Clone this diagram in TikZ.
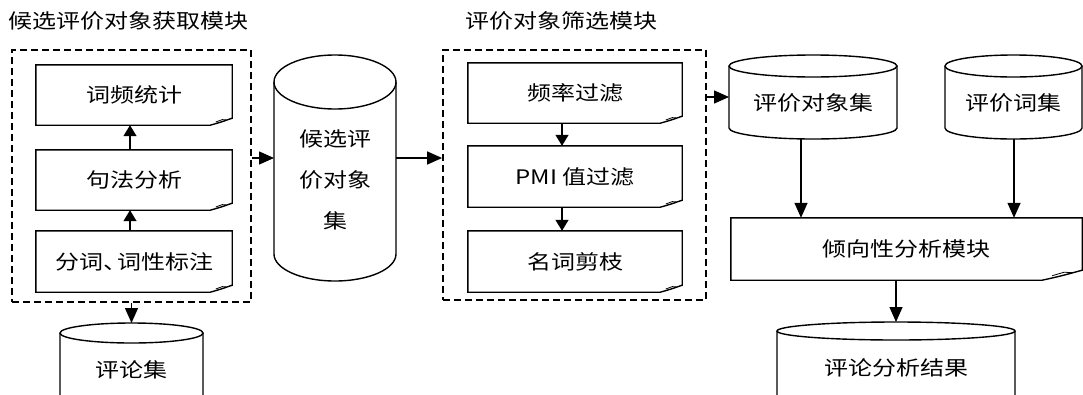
\documentclass[tikz,border=0pt]{standalone}
\usepackage{fontspec}
\setmainfont[FakeStretch=1.2]{Noto Sans CJK SC}
\usetikzlibrary{arrows.meta,calc}
\tikzset{
  txt/.style={font=\fontsize{20}{24}\selectfont, inner sep=0pt},
  boxline/.style={line width=1.4pt},
  docnode/.style={txt, minimum width=#1, inner sep=0pt},
  modbox/.style={draw, line width=1.8pt, dash pattern=on 7pt off 4pt, inner sep=0pt},
  arr/.style={line width=1.4pt, -{Triangle[length=15pt,width=13pt]}},
  sarr/.style={line width=1.4pt, -{Triangle[length=11pt,width=13pt]}},
}
\newcommand\docshape[3]{%
  \draw[boxline] (#1.south west) -- (#1.north west) -- (#1.north east) -- ($(#1.south east)+(0pt,#3)$)
    .. controls ($(#1.south east)+(-0.55*#2,0.4*#3)$) .. ($(#1.south east)+(-#2,0pt)$) -- cycle;
  \draw[line width=0.8pt] ($(#1.south east)+(-0.75*#2,0.45*#3)$) -- ($(#1.south east)+(-0.45*#2,0.8*#3)$) -- ($(#1.south east)+(-0.25*#2,0.75*#3)$);}
\newcommand\cyl[5]{%
  \pgfmathsetmacro\crx{(#2-#1)/2}%
  \draw[boxline] (#1,#3+#5) -- (#1,#4-#5) arc[start angle=180,end angle=0,x radius=\crx,y radius=#5] -- (#2,#3+#5);
  \draw[boxline] ({(#1+#2)/2},#3+#5) ellipse[x radius=\crx, y radius=#5];}
\begin{document}
\begin{tikzpicture}[x=1pt,y=-1pt]
\useasboundingbox (0,0) rectangle (1083,394);
\clip (0,0) rectangle (1083,394);
% titles
\node[txt, anchor=west] (t1) at (8,21) {候选评价对象获取模块};
\node[txt, anchor=west] (t2) at (465,21) {评价对象筛选模块};
% module boxes
\node[modbox, minimum width=239pt, minimum height=252pt] (mod1) at (131.5,176) {};
\node[modbox, minimum width=263pt, minimum height=250pt] (mod2) at (574.5,175) {};
% left document boxes
\node[docnode=196pt, minimum height=60pt] (l1) at (134,95) {词频统计};
\node[docnode=196pt, minimum height=60pt] (l2) at (134,180) {句法分析};
\node[docnode=196pt, minimum height=61pt] (l3) at (134,261.5) {分词、\kern-0.5em词性标注};
\docshape{l1}{22pt}{7pt}
\docshape{l2}{22pt}{7pt}
\docshape{l3}{22pt}{7pt}
\draw[sarr] ([xshift=-4pt]l2.north) -- ([xshift=-4pt]l1.south);
\draw[sarr] ([xshift=-4pt]l3.north) -- ([xshift=-4pt]l2.south);
% middle document boxes
\node[docnode=214pt, minimum height=60pt] (m1) at (575,93) {频率过滤};
\node[docnode=214pt, minimum height=61pt] (m2) at (575,176.5) {PMI 值过滤};
\node[docnode=214pt, minimum height=61pt] (m3) at (575,261.5) {名词剪枝};
\docshape{m1}{22pt}{7pt}
\docshape{m2}{22pt}{7pt}
\docshape{m3}{22pt}{7pt}
\draw[sarr] ([xshift=-13pt]m1.south) -- ([xshift=-13pt]m2.north);
\draw[sarr] ([xshift=-13pt]m2.south) -- ([xshift=-13pt]m3.north);
% candidate cylinder
\cyl{274}{396}{55}{281}{27}
\node[txt, align=center, font=\fontsize{20}{41}\selectfont] (cand) at (335,180) {候选评\\价对象\\集};
\coordinate (candW) at (274,158);
\coordinate (candE) at (396,158);
\draw[arr] (mod1.east |- candW) -- (candW);
\draw[arr] (candE) -- (mod2.west |- candE);
% reviews cylinder
\cyl{60}{203}{323}{430}{10}
\node[txt] (rev) at (131.5,370) {评论集};
\coordinate (revT) at (131.5,323);
\draw[arr] (mod1.south) -- (revT);
% right cylinders
\cyl{729}{897}{55}{139}{11}
\node[txt] (obj) at (813,103) {评价对象集};
\cyl{945}{1082}{55}{139}{11}
\node[txt] (wd) at (1013,103) {评价词集};
\coordinate (objW) at (729,97);
\coordinate (objB) at (801,139);
\coordinate (wdB) at (1014,139);
\draw[arr] (mod2.east |- objW) -- (objW);
% tendency module
\node[docnode=351pt, minimum height=62pt] (tend) at (906.5,249) {倾向性分析模块};
\docshape{tend}{40pt}{10pt}
\draw[arr] (objB) -- (objB |- tend.north);
\draw[arr] (wdB) -- (wdB |- tend.north);
% result cylinder
\cyl{777}{1015}{322}{430}{9}
\node[txt] (res) at (896,368) {评论分析结果};
\coordinate (resT) at (896,322);
\draw[arr] (resT |- tend.south) -- (resT);
\end{tikzpicture}
\end{document}
